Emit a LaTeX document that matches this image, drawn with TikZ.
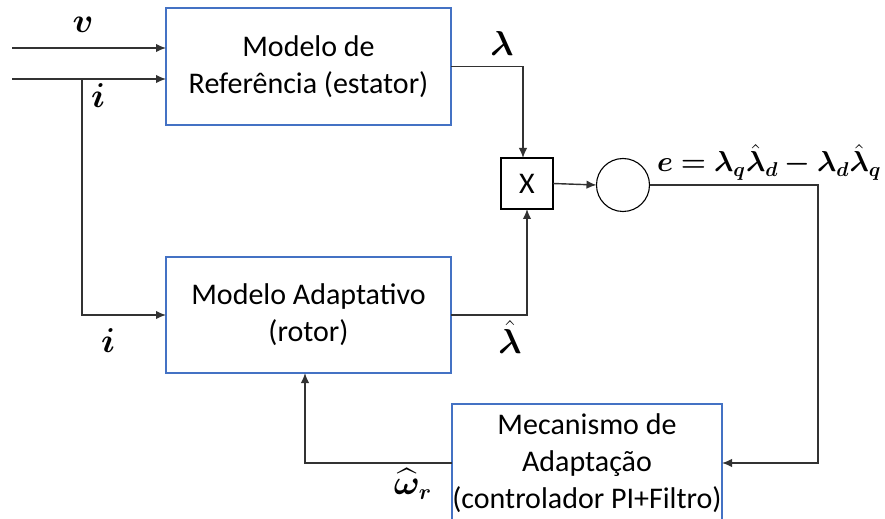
\documentclass[tikz,border=0pt]{standalone}
\usepackage{fontspec}
\usepackage{amsmath}
\usepackage{bm}
\setmainfont{Carlito}
\usetikzlibrary{arrows.meta,positioning,calc}
\definecolor{boxblue}{RGB}{68,114,196}
\definecolor{linegray}{RGB}{50,50,50}
\begin{document}
\begin{tikzpicture}[x=0.5pt,y=-0.5pt,
  every node/.style={inner sep=0pt,outer sep=0pt},
  blockbox/.style={draw=boxblue,line width=0.55pt,align=center,font=\fontsize{15}{18.5}\selectfont},
  mulbox/.style={draw=black,line width=0.55pt,font=\fontsize{15}{18}\selectfont},
  sumcirc/.style={draw=black,line width=0.55pt,circle,minimum size=26.5pt},
  conn/.style={draw=linegray,line width=0.7pt},
  arr/.style={conn,-{Latex[length=5pt,width=4.2pt]}},
  mathlbl/.style={font=\fontsize{16}{18}\selectfont}]
\clip (0,0) rectangle (885,519);
\fill[white] (0,0) rectangle (885,519);
% blocks
\node[blockbox,minimum width=142.5pt,minimum height=58.5pt] (ref) at (308.5,66.5) {Modelo de\\Referência (estator)};
\node[blockbox,minimum width=142.5pt,minimum height=58pt] (adp) at (308.5,315) {Modelo Adaptativo\\(rotor)};
\node[blockbox,minimum width=135pt,minimum height=59pt] (mec) at (587,463) {Mecanismo de\\Adaptação\\(controlador PI+Filtro)};
\node[mulbox,minimum width=26pt,minimum height=25.5pt] (mul) at (527,183.5) {X};
\node[sumcirc] (sum) at (623,185) {};
% coordinates
\coordinate (vin) at (12,48);
\coordinate (iin) at (12,79);
\coordinate (br) at (82,79);
\coordinate (ecorner) at (818,185);
% connectors
\draw[arr] (vin) -- (vin -| ref.west);
\draw[arr] (iin) -- (iin -| ref.west);
\draw[arr] (br) |- (adp.west);
\draw[arr] (ref.east) -| ([xshift=-2pt]mul.north);
\draw[arr] (adp.east) -| ([xshift=0pt]mul.south);
\draw[arr] (mul.east) -- (sum.west);
\draw[arr] (sum.east) -- (ecorner) |- (mec.east);
\draw[arr] (mec.west) -| ([xshift=-1.75pt]adp.south);
% labels
\node[mathlbl] (lv) at (83,25) {$\bm{v}$};
\node[mathlbl] (li1) at (98,96) {$\bm{i}$};
\node[mathlbl] (li2) at (108,341) {$\bm{i}$};
\node[mathlbl] (llam) at (502,44) {$\bm{\lambda}$};
\node[mathlbl] (llamh) at (510,337) {$\bm{\hat{\lambda}}$};
\node[mathlbl] (lw) at (413,484) {$\bm{\widehat{\omega}_r}$};
\node[font=\fontsize{14}{16}\selectfont,anchor=west] (le) at (657,162) {$\bm{e=\lambda_q\hat{\lambda}_d-\lambda_d\hat{\lambda}_q}$};
\end{tikzpicture}
\end{document}
